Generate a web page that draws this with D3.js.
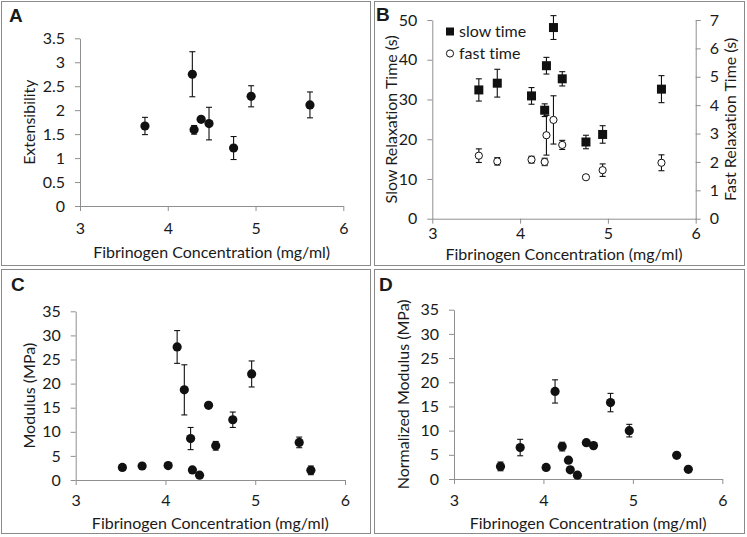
<!DOCTYPE html>
<html lang="en">
<head>
  <meta charset="utf-8">
  <title>Fibrinogen panels</title>
  <script src="https://cdn.jsdelivr.net/npm/d3@7"></script>
  <style>
    body { margin: 0; background: #fff; }
    text { font-family: Lato, "Open Sans", sans-serif; fill: #1a1a1a; font-variant-ligatures: none; }
    .letter { font-family: "Liberation Sans", Arial, sans-serif; font-weight: bold; font-size: 19px; }
  </style>
</head>
<body>
<script>
  // Panel A - extensibility
  const concA = [3.74, 4.28, 4.30, 4.38, 4.47, 4.75, 4.95, 5.62];
  const extA = [1.67, 2.75, 1.59, 1.81, 1.72, 1.21, 2.29, 2.11];
  const extErrA = [0.18, 0.47, 0.09, 0.05, 0.34, 0.24, 0.22, 0.27];

  // Panel B - relaxation times
  const concB = [3.53, 3.74, 4.13, 4.28, 4.30, 4.38, 4.48, 4.75, 4.94, 5.61];
  const slowB = [32.4, 34.1, 30.9, 27.3, 38.5, 48.1, 35.2, 19.3, 21.2, 32.6];
  const slowErrB = [2.8, 3.5, 2.1, 1.6, 2.1, 3.0, 1.8, 1.7, 2.2, 3.4];
  const concBfast = [3.53, 3.74, 4.13, 4.28, 4.30, 4.38, 4.48, 4.75, 4.94, 5.61];
  const fastB = [2.22, 2.02, 2.08, 2.00, 2.94, 3.48, 2.60, 1.46, 1.71, 1.97];
  const fastErrB = [0.24, 0.13, 0.12, 0.13, 0.70, 0.85, 0.16, 0.07, 0.22, 0.28];

  // Panels C, D - modulus
  const concCD = [3.52, 3.74, 4.03, 4.13, 4.21, 4.28, 4.30, 4.38, 4.48, 4.56, 4.75, 4.96, 5.49, 5.62];
  const modC = [2.6, 2.9, 3.0, 27.6, 18.7, 8.6, 2.1, 1.0, 15.5, 7.1, 12.5, 22.0, 7.8, 2.0];
  const modErrC = [0.6, 0.5, 0.5, 3.4, 5.2, 2.3, 0.5, 0.4, 0.5, 0.9, 1.6, 2.7, 1.1, 0.9];
  const normD = [2.6, 6.5, 2.4, 18.1, 6.7, 3.9, 1.9, 0.8, 7.5, 6.9, 15.8, 10.0, 4.9, 2.0];
  const normErrD = [0.9, 1.7, 0.4, 2.4, 0.9, 0.5, 0.4, 0.3, 0.5, 0.4, 1.9, 1.3, 0.3, 0.3];

  const xTicks = [3, 4, 5, 6];
  const yTicksA = [0, 0.5, 1, 1.5, 2, 2.5, 3, 3.5];
  const yTicksBslow = [0, 10, 20, 30, 40, 50];
  const yTicksBfast = [0, 1, 2, 3, 4, 5, 6, 7];
  const yTicksCD = [0, 5, 10, 15, 20, 25, 30, 35];

  const w = 747, h = 537;
  const axisColor = "#8f8f8f";
  const fs = "16px";

  const svg = d3.select("body").append("svg")
    .attr("width", w)
    .attr("height", h);

  // panel frames
  const frames = [
    {x: 1.5, y: 1.5, w: 369, h: 264, label: "A", lx: 9, ly: 22},
    {x: 374.5, y: 1.5, w: 370, h: 264, label: "B", lx: 376, ly: 21},
    {x: 1.5, y: 269.5, w: 369, h: 264, label: "C", lx: 11, ly: 291},
    {x: 374.5, y: 269.5, w: 370, h: 264, label: "D", lx: 379, ly: 291}
  ];
  frames.forEach(function (f) {
    svg.append("rect")
      .attr("x", f.x).attr("y", f.y)
      .attr("width", f.w).attr("height", f.h)
      .attr("fill", "none")
      .attr("stroke", "#8a8a8a");
    svg.append("text")
      .attr("class", "letter")
      .attr("x", f.lx).attr("y", f.ly)
      .text(f.label);
  });

  function styleAxis(g) {
    g.select(".domain").attr("stroke", axisColor);
    g.selectAll(".tick line").attr("stroke", axisColor);
    g.selectAll(".tick text")
      .style("font-family", "Lato, 'Open Sans', sans-serif")
      .style("font-size", fs)
      .attr("fill", "#1a1a1a");
  }

  function drawAxes(x, y, yTicks, xPad, xTitle, yTitle, yTitleX, xTitleY) {
    const x0 = x.range()[0], y0 = y.range()[0];
    const gx = svg.append("g")
      .attr("transform", "translate(0," + y0 + ")")
      .call(d3.axisBottom(x).tickValues(xTicks).tickSize(5).tickSizeOuter(0).tickPadding(xPad).tickFormat(d3.format("d")));
    styleAxis(gx);
    const gy = svg.append("g")
      .attr("transform", "translate(" + x0 + ",0)")
      .call(d3.axisLeft(y).tickValues(yTicks).tickSize(5).tickSizeOuter(0).tickPadding(10).tickFormat(String));
    styleAxis(gy);
    const xm = (x.range()[0] + x.range()[1]) / 2;
    svg.append("text")
      .attr("x", xm).attr("y", xTitleY)
      .attr("text-anchor", "middle")
      .style("font-size", fs)
      .text(xTitle);
    const ym = (y.range()[0] + y.range()[1]) / 2;
    svg.append("text")
      .attr("transform", "translate(" + yTitleX + "," + ym + ") rotate(-90)")
      .attr("text-anchor", "middle")
      .style("font-size", fs)
      .text(yTitle);
  }

  function drawErrors(x, y, xs, vals, errs) {
    const g = svg.append("g").attr("stroke", "#111").attr("stroke-width", 1.1);
    xs.forEach(function (c, i) {
      const cx = x(c), top = y(vals[i] + errs[i]), bot = y(vals[i] - errs[i]);
      g.append("line").attr("x1", cx).attr("x2", cx).attr("y1", top).attr("y2", bot);
      g.append("line").attr("x1", cx - 3).attr("x2", cx + 3).attr("y1", top).attr("y2", top);
      g.append("line").attr("x1", cx - 3).attr("x2", cx + 3).attr("y1", bot).attr("y2", bot);
    });
  }

  function drawDots(x, y, xs, vals) {
    svg.append("g").selectAll("circle")
      .data(xs)
      .enter()
      .append("circle")
      .attr("cx", function (d) { return x(d); })
      .attr("cy", function (d, i) { return y(vals[i]); })
      .attr("r", 4.6)
      .attr("fill", "#111");
  }

  const xTitle = "Fibrinogen Concentration (mg/ml)";

  // ---- A
  const xA = d3.scaleLinear().domain([3, 6]).range([80, 343.3]);
  const yA = d3.scaleLinear().domain([0, 3.5]).range([206, 38.3]);
  drawAxes(xA, yA, yTicksA, 12, xTitle, "Extensibility", 35, 258);
  drawErrors(xA, yA, concA, extA, extErrA);
  drawDots(xA, yA, concA, extA);

  // ---- B
  const xB = d3.scaleLinear().domain([3, 6]).range([432.3, 695.7]);
  const yBs = d3.scaleLinear().domain([0, 50]).range([218.7, 20]);
  const yBf = d3.scaleLinear().domain([0, 7]).range([218.7, 20]);
  drawAxes(xB, yBs, yTicksBslow, 4, xTitle, "Slow Relaxation Time (s)", 397, 260);
  const gR = svg.append("g")
    .attr("transform", "translate(695.7,0)")
    .call(d3.axisRight(yBf).tickValues(yTicksBfast).tickSize(5).tickSizeOuter(0).tickPadding(9).tickFormat(d3.format("d")));
  styleAxis(gR);
  svg.append("text")
    .attr("transform", "translate(736," + (218.7 + 20) / 2 + ") rotate(-90)")
    .attr("text-anchor", "middle")
    .style("font-size", fs)
    .text("Fast Relaxation Time (s)");

  drawErrors(xB, yBs, concB, slowB, slowErrB);
  drawErrors(xB, yBf, concBfast, fastB, fastErrB);
  svg.append("g").selectAll("rect")
    .data(concB)
    .enter()
    .append("rect")
    .attr("x", function (d) { return xB(d) - 4.5; })
    .attr("y", function (d, i) { return yBs(slowB[i]) - 4.5; })
    .attr("width", 9).attr("height", 9)
    .attr("fill", "#111");
  svg.append("g").selectAll("circle")
    .data(concBfast)
    .enter()
    .append("circle")
    .attr("cx", function (d) { return xB(d); })
    .attr("cy", function (d, i) { return yBf(fastB[i]); })
    .attr("r", 3.6)
    .attr("fill", "#fff")
    .attr("stroke", "#111")
    .attr("stroke-width", 1);

  // legend
  svg.append("rect").attr("x", 446).attr("y", 27.5).attr("width", 8).attr("height", 8).attr("fill", "#111");
  svg.append("text").attr("x", 459).attr("y", 37).style("font-size", fs).text("slow time");
  svg.append("circle").attr("cx", 450).attr("cy", 53.5).attr("r", 3.6).attr("fill", "#fff").attr("stroke", "#111");
  svg.append("text").attr("x", 459).attr("y", 59).style("font-size", fs).text("fast time");

  // ---- C
  const xC = d3.scaleLinear().domain([3, 6]).range([75.7, 345]);
  const yC = d3.scaleLinear().domain([0, 35]).range([480, 311.3]);
  drawAxes(xC, yC, yTicksCD, 10, xTitle, "Modulus (MPa)", 35, 529);
  drawErrors(xC, yC, concCD, modC, modErrC);
  drawDots(xC, yC, concCD, modC);

  // ---- D
  const xD = d3.scaleLinear().domain([3, 6]).range([454, 722.3]);
  const yD = d3.scaleLinear().domain([0, 35]).range([479, 309.7]);
  drawAxes(xD, yD, yTicksCD, 11, xTitle, "Normalized Modulus (MPa)", 409, 529);
  drawErrors(xD, yD, concCD, normD, normErrD);
  drawDots(xD, yD, concCD, normD);
</script>
</body>
</html>
